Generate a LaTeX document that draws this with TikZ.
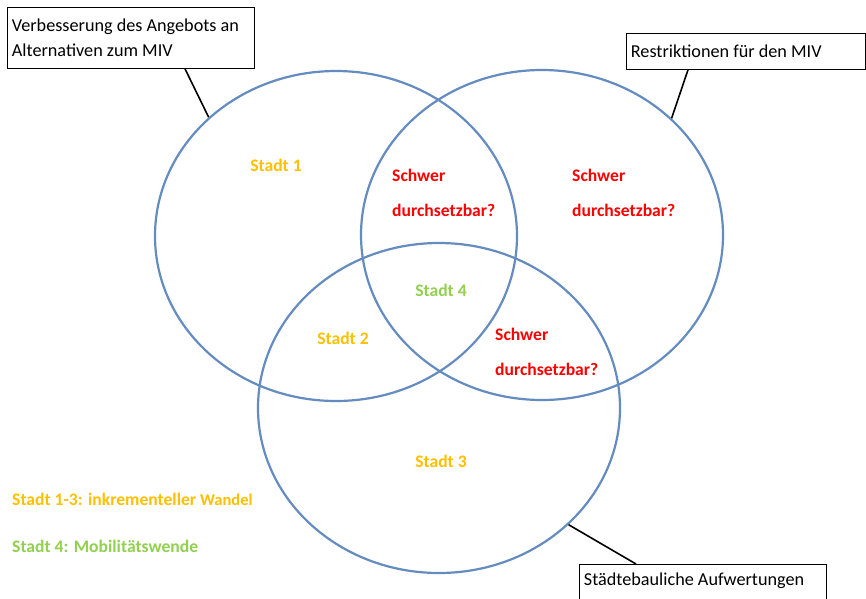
\documentclass[tikz,border=0pt]{standalone}
\usepackage{fontspec}
\setmainfont{Carlito}
\usetikzlibrary{shapes.geometric}
\definecolor{ringblue}{RGB}{100,140,192}
\definecolor{cityorange}{RGB}{255,192,0}
\definecolor{citygreen}{RGB}{146,208,80}
\definecolor{hardred}{RGB}{255,0,0}
\tikzset{
  ring/.style={ellipse, draw=ringblue, line width=2.2pt, minimum width=362pt, minimum height=330pt, inner sep=0pt},
  labelbox/.style={draw=black, line width=0.8pt, fill=white, anchor=north west, align=flush left, inner xsep=4.5pt, font=\fontsize{18.2}{25}\selectfont},
  leader/.style={draw=black, line width=1.6pt},
  city/.style={font=\bfseries\fontsize{17.6}{35}\selectfont, inner sep=0pt},
  hard/.style={font=\bfseries\fontsize{17.6}{35}\selectfont, text=hardred, align=left, anchor=west, inner sep=0pt}
}
\begin{document}
\begin{tikzpicture}[x=1pt, y=-1pt]
\useasboundingbox (0,0) rectangle (866,598);
\fill[white] (0,0) rectangle (866,598);
% circles
\node[ring] (e1) at (336,236) {};
\node[ring] (e2) at (542,235) {};
\node[ring] (e3) at (439,408) {};
% boxes
\node[labelbox, text width=238pt, minimum height=61pt] (b1) at (7,7) {Verbesserung des Angebots an\\Alternativen zum MIV};
\node[labelbox, text width=230pt, minimum height=36pt] (b2) at (626,33) {Restriktionen für den MIV};
\node[labelbox, text width=238pt, text height=16pt, text depth=18pt, inner ysep=5pt] (b3) at (579,564) {Städtebauliche Aufwertungen};
% leaders
\draw[leader] ([xshift=178pt]b1.south west) -- (e1.137.6);
\draw[leader] ([xshift=62pt]b2.south west) -- (e2.42.7);
\draw[leader] ([xshift=57pt]b3.north west) -- (e3.-42.2);
% labels
\node[city, text=cityorange] (s1) at (276,165) {Stadt 1};
\node[city, text=cityorange] (s2) at (343,338) {Stadt 2};
\node[city, text=cityorange] (s3) at (441,461) {Stadt 3};
\node[city, text=citygreen] (s4) at (441,290) {Stadt 4};
\node[hard] (h1) at (392,192.5) {Schwer\\durchsetzbar?};
\node[hard] (h2) at (572,192.5) {Schwer\\durchsetzbar?};
\node[hard] (h3) at (495,351.5) {Schwer\\durchsetzbar?};
% legend
\node[city, text=cityorange, anchor=west] (l1) at (12,499) {Stadt 1-3: inkrementeller {\fontsize{16.5}{20}\selectfont Wandel}};
\node[city, text=citygreen, anchor=west] (l2) at (12,546) {Stadt 4: Mobilitätswende};
\end{tikzpicture}
\end{document}
